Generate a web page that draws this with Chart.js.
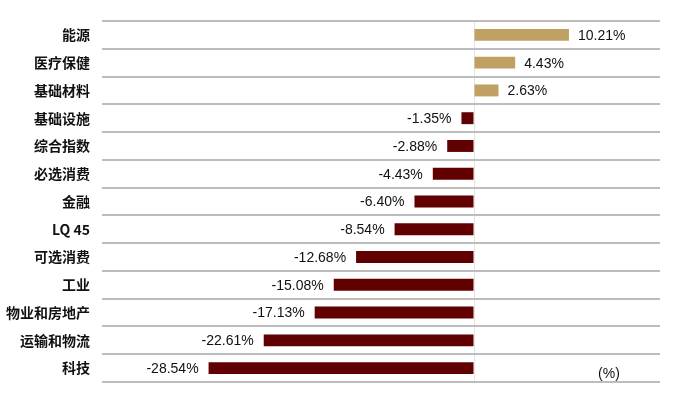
<!DOCTYPE html>
<html>
<head>
<meta charset="utf-8">
<script src="https://cdn.jsdelivr.net/npm/chart.js@4/dist/chart.umd.min.js"></script>
<style>
    html, body { margin: 0; padding: 0; background: #fff; }
    #wrap { width: 700px; height: 413px; }
</style>
</head>
<body>
<div id="wrap"><canvas id="sectorChart"></canvas></div>
<script>
// 板块涨跌幅 (%)
const sectors = ["能源", "医疗保健", "基础材料", "基础设施", "综合指数", "必选消费", "金融",
    "LQ 45", "可选消费", "工业", "物业和房地产", "运输和物流", "科技"];
const changes = [10.21, 4.43, 2.63, -1.35, -2.88, -4.43, -6.40, -8.54, -12.68, -15.08, -17.13, -22.61, -28.54];
const unitLabel = "(%)";

const posColor = "#C1A063";
const negColor = "#600000";

// data label plugin, text next to bar end
const barLabels = {
    id: "barLabels",
    afterDatasetsDraw(chart) {
        const ctx = chart.ctx;
        const meta = chart.getDatasetMeta(0);
        ctx.save();
        ctx.font = "14px 'Liberation Sans', Arial, sans-serif";
        ctx.fillStyle = "#111";
        ctx.textBaseline = "middle";
        meta.data.forEach((bar, i) => {
            const v = changes[i];
            const txt = v.toFixed(2) + "%";
            if (v >= 0) {
                ctx.textAlign = "left";
                ctx.fillText(txt, bar.x + 9, bar.y + 1);
            } else {
                ctx.textAlign = "right";
                ctx.fillText(txt, bar.x - 10, bar.y + 1);
            }
        });
        // unit
        const area = chart.chartArea;
        ctx.textAlign = "center";
        ctx.fillText(unitLabel, area.right - 51, area.bottom - 8);
        ctx.restore();
    },
};

let sectorCtx = document.getElementById("sectorChart").getContext("2d");
let sectorChart = new Chart(sectorCtx, {
    type: "bar",
    data: {
        labels: sectors,
        datasets: [
            {
                data: changes,
                backgroundColor: changes.map((v) => (v >= 0 ? posColor : negColor)),
                borderWidth: 0,
                barPercentage: 0.86,
                categoryPercentage: 0.5,
            },
        ],
    },
    options: {
        indexAxis: "y",
        responsive: true,
        maintainAspectRatio: false,
        animation: false,
        layout: {
            padding: { left: 0, right: 40, top: 21, bottom: 31 },
        },
        plugins: {
            legend: { display: false },
            tooltip: { enabled: false },
        },
        scales: {
            x: {
                min: -40,
                max: 20,
                ticks: { display: false, stepSize: 20 },
                border: { display: false },
                grid: {
                    drawTicks: false,
                    color: (c) => (c.tick && c.tick.value === 0 ? "#E4E4E4" : "rgba(0,0,0,0)"),
                    lineWidth: 1,
                },
                afterFit(scale) {
                    scale.height = 0;
                },
            },
            y: {
                border: { display: false },
                grid: {
                    offset: true,
                    drawTicks: false,
                    color: "#BDBDBD",
                    lineWidth: 2,
                },
                ticks: {
                    padding: 12,
                    color: "#111",
                    font: { family: "'Noto Sans CJK SC', sans-serif", size: 14, weight: "bold" },
                },
                afterFit(scale) {
                    scale.width = 102;
                },
            },
        },
    },
    plugins: [barLabels],
});
</script>
</body>
</html>
